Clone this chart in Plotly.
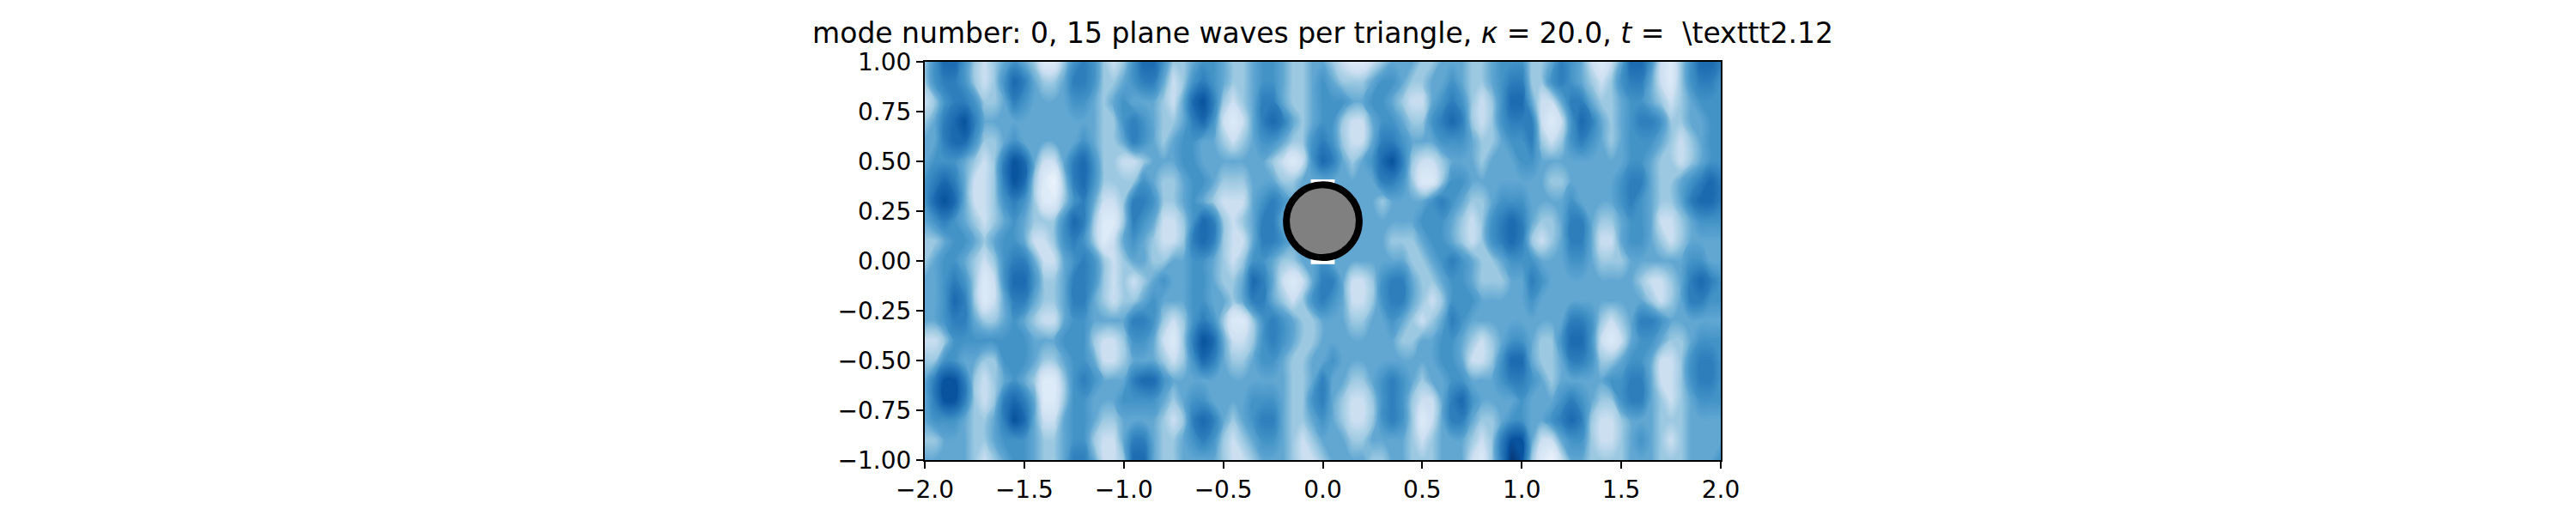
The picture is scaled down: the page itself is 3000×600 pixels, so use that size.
import plotly.graph_objects as go

# wave field amplitude, scale 0 (lightest) .. 9 (darkest)
# rows go from y = 1.0 (top) down to y = -1.0, columns from x = -2.0 to 2.0 in steps of 0.05
x_vals = [round(-2.0 + 0.05 * i, 2) for i in range(81)]
y_vals = [round(1.0 - 0.1 * j, 1) for j in range(21)]

field_rows = [
    "357753234543113565323" + "57753345543345543344" + "32112344433444334555" + "33465421247752135776",
    "356653235764334665334" + "56642356543345543345" + "43334554334454334566" + "33565432356642135665",
    "235665334654444554345" + "44432478632346643345" + "55445543224565323577" + "42246643345543234555",
    "346786444444444444335" + "65433467521246764345" + "53224554335676323566" + "62125764345665334455",
    "446775334544444454334" + "65434554432345543356" + "53224665444555433455" + "63235654345554323455",
    "455543236874224675332" + "23444554444444321257" + "64345786322344434445" + "54444444445543323455",
    "567642236873103675333" + "35433455433344433444" + "44444665311355444444" + "44334444456643345676",
    "578742235653113564223" + "66533454322245654444" + "44444344445654334555" + "44445444456543346776",
    "456543234543335763113" + "65422357632346644444" + "44444444455543235676" + "43346643345542234555",
    "334554345542235653124" + "54322367632246654444" + "44444433345543235676" + "32346642245543234444",
    "345543235664224565323" + "44334455432355433445" + "44444444334565433455" + "54445543334444445544",
    "445653125775334665323" + "23454455433476421246" + "64223566433455433344" + "65444444444322346765",
    "445763124664334664323" + "34544455443466432356" + "54223566432355544444" + "54444444444432346655",
    "445664334543224554444" + "66532356531135654334" + "44334454323465444444" + "44446653234665444444",
    "223555555554445553223" + "55421368742235654334" + "44444443344554323455" + "43357752124554334555",
    "335544335554334554223" + "44432357643345543344" + "54444444444554223577" + "43346653345542235665",
    "468863234543113565444" + "67754444444444443346" + "44334565434455444566" + "54344444556642235665",
    "468863236764113554445" + "55543455444455543356" + "43223565322467544445" + "44456543356643234555",
    "455543346874224554334" + "44432367643456643345" + "43223565312466433455" + "44567632234443334444",
    "334443345554334553224" + "66433456532345543234" + "44334444323444323688" + "42245532234543234444",
    "444443234554334664223" + "77433444432234443223" + "44443344333444213698" + "31024433334443334445",
]

# scatterer
circle_x = 0.0
circle_y = 0.2
circle_r = 0.183

x_ticks = [-2.0, -1.5, -1.0, -0.5, 0.0, 0.5, 1.0, 1.5, 2.0]
y_ticks = [-1.0, -0.75, -0.5, -0.25, 0.0, 0.25, 0.5, 0.75, 1.0]

# matplotlib "Blues" anchor colours
blues_hex = ["#f7fbff", "#deebf7", "#c6dbef", "#9ecae1", "#6baed6",
             "#4292c6", "#2171b5", "#08519c", "#08306b"]
# where each level of the 0..9 scale sits on the Blues map
level_pos = [0.06, 0.13, 0.22, 0.38, 0.53, 0.62, 0.70, 0.78, 0.87, 0.97]


def blues_at(t):
    t = min(max(t, 0.0), 1.0) * (len(blues_hex) - 1)
    i = min(int(t), len(blues_hex) - 2)
    f = t - i
    a = [int(blues_hex[i][k:k + 2], 16) for k in (1, 3, 5)]
    b = [int(blues_hex[i + 1][k:k + 2], 16) for k in (1, 3, 5)]
    c = [round(a[k] + (b[k] - a[k]) * f) for k in range(3)]
    return "rgb(%d,%d,%d)" % tuple(c)


colorscale = [[v / 9, blues_at(t)] for v, t in enumerate(level_pos)]

z = [[int(c) for c in row] for row in field_rows]
z = z[::-1]
y_plot = y_vals[::-1]

fig = go.Figure()
fig.add_trace(go.Contour(
    x=x_vals, y=y_plot, z=z,
    colorscale=colorscale, zmin=0, zmax=9,
    autocontour=False,
    contours=dict(start=-0.05, end=9.05, size=0.1, coloring="fill", showlines=False),
    line=dict(width=0, smoothing=1.3),
    showscale=False, hoverinfo="skip"))

# little uncovered patch of the mesh around the obstacle
fig.add_shape(type="rect", x0=-0.06, x1=0.06, y0=-0.016, y1=0.41,
              fillcolor="white", line=dict(width=0), layer="above")
fig.add_shape(type="circle",
              x0=circle_x - circle_r, x1=circle_x + circle_r,
              y0=circle_y - circle_r, y1=circle_y + circle_r,
              fillcolor="#808080", line=dict(color="black", width=8), layer="above")

font = "DejaVu Sans"
# the page body adds 8px, so margins are 8px smaller on the left/top
fig.update_layout(
    width=3000, height=600, autosize=False,
    paper_bgcolor="white", plot_bgcolor="white",
    margin=dict(l=1069, r=1004, t=64, b=72),
    font=dict(family=font, size=28, color="black"),
    title=dict(
        text="mode number: 0, 15 plane waves per triangle, <i>κ</i> = 20.0, <i>t</i> =  \\texttt2.12",
        x=0.5, xref="paper", xanchor="center",
        y=1 - 42 / 600, yref="container", yanchor="bottom",
        font=dict(family=font, size=33, color="black")),
    showlegend=False,
)
fig.update_xaxes(range=[-2, 2], tickvals=x_ticks, tickformat=".1f",
                 ticks="outside", ticklen=8, tickwidth=2, tickcolor="black",
                 showline=True, linecolor="black", linewidth=2, mirror=True,
                 showgrid=False, zeroline=False)
fig.update_yaxes(range=[-1, 1], tickvals=y_ticks, tickformat=".2f",
                 ticks="outside", ticklen=8, tickwidth=2, tickcolor="black",
                 showline=True, linecolor="black", linewidth=2, mirror=True,
                 showgrid=False, zeroline=False)

fig.write_html("out.html")
